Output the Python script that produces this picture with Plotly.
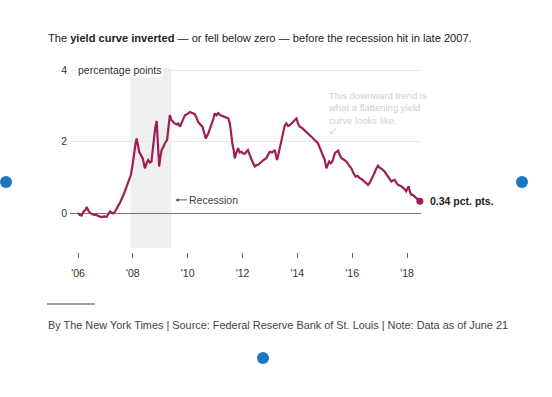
import plotly.graph_objects as go

# ---- data ----
years = [
    2006.00, 2006.06, 2006.13, 2006.20, 2006.27, 2006.32, 2006.38, 2006.44, 2006.52, 2006.62,
    2006.70, 2006.78, 2006.86, 2006.95, 2007.05, 2007.12, 2007.17, 2007.23, 2007.29, 2007.35,
    2007.41, 2007.47, 2007.53, 2007.59, 2007.65, 2007.71, 2007.77, 2007.83, 2007.88, 2007.93,
    2007.99, 2008.05, 2008.10, 2008.14, 2008.19, 2008.23, 2008.30, 2008.36, 2008.40, 2008.44,
    2008.50, 2008.56, 2008.62, 2008.68, 2008.73, 2008.77, 2008.82, 2008.87, 2008.92, 2008.96,
    2009.00, 2009.05, 2009.11, 2009.17, 2009.25, 2009.30, 2009.35, 2009.41, 2009.47, 2009.53,
    2009.60, 2009.65, 2009.72, 2009.80, 2009.90, 2010.00, 2010.08, 2010.17, 2010.26, 2010.32,
    2010.38, 2010.46, 2010.54, 2010.60, 2010.66, 2010.75, 2010.81, 2010.87, 2010.93, 2010.99,
    2011.05, 2011.11, 2011.20, 2011.29, 2011.38, 2011.48, 2011.54, 2011.60, 2011.64, 2011.68,
    2011.72, 2011.78, 2011.84, 2011.90, 2011.96, 2012.02, 2012.08, 2012.14, 2012.20, 2012.27,
    2012.33, 2012.39, 2012.45, 2012.51, 2012.57, 2012.63, 2012.69, 2012.78, 2012.87, 2012.93,
    2012.99, 2013.08, 2013.18, 2013.22, 2013.26, 2013.31, 2013.36, 2013.42, 2013.48, 2013.54,
    2013.60, 2013.66, 2013.72, 2013.78, 2013.84, 2013.90, 2013.97, 2014.03, 2014.09, 2014.18,
    2014.27, 2014.36, 2014.45, 2014.54, 2014.63, 2014.69, 2014.75, 2014.81, 2014.88, 2014.94,
    2015.00, 2015.06, 2015.11, 2015.16, 2015.22, 2015.28, 2015.33, 2015.37, 2015.43, 2015.49,
    2015.55, 2015.61, 2015.70, 2015.79, 2015.88, 2015.97, 2016.05, 2016.13, 2016.20, 2016.27,
    2016.36, 2016.46, 2016.52, 2016.58, 2016.64, 2016.70, 2016.76, 2016.81, 2016.86, 2016.94,
    2016.98, 2017.06, 2017.12, 2017.18, 2017.24, 2017.30, 2017.36, 2017.43, 2017.49, 2017.55,
    2017.61, 2017.67, 2017.73, 2017.79, 2017.88, 2017.97, 2018.02, 2018.06, 2018.10, 2018.15,
    2018.21, 2018.27, 2018.35, 2018.43, 2018.47,
]
spread = [
    0.02, -0.04, -0.06, 0.05, 0.10, 0.18, 0.08, 0.02, -0.02, -0.03,
    -0.05, -0.08, -0.10, -0.08, -0.09, 0.00, 0.06, 0.02, 0.00, 0.05,
    0.16, 0.22, 0.30, 0.39, 0.50, 0.62, 0.75, 0.89, 0.98, 1.08,
    1.36, 1.77, 1.95, 2.09, 1.90, 1.72, 1.62, 1.54, 1.40, 1.26,
    1.40, 1.49, 1.42, 1.45, 1.80, 2.14, 2.40, 2.58, 1.90, 1.31,
    1.55, 1.77, 1.85, 1.96, 2.05, 2.40, 2.74, 2.60, 2.55, 2.51,
    2.48, 2.51, 2.42, 2.55, 2.74, 2.78, 2.83, 2.80, 2.77, 2.68,
    2.55, 2.48, 2.42, 2.25, 2.09, 2.23, 2.35, 2.46, 2.62, 2.79,
    2.74, 2.80, 2.74, 2.71, 2.68, 2.65, 2.51, 2.05, 1.90, 1.77,
    1.54, 1.70, 1.82, 1.70, 1.72, 1.68, 1.66, 1.72, 1.77, 1.62,
    1.49, 1.40, 1.31, 1.35, 1.36, 1.40, 1.45, 1.50, 1.54, 1.62,
    1.72, 1.70, 1.77, 1.62, 1.49, 1.65, 1.82, 2.10, 2.32, 2.45,
    2.51, 2.44, 2.46, 2.52, 2.55, 2.60, 2.65, 2.50, 2.42, 2.38,
    2.32, 2.25, 2.19, 2.12, 2.05, 2.00, 1.96, 1.85, 1.72, 1.60,
    1.49, 1.26, 1.38, 1.45, 1.40, 1.45, 1.58, 1.68, 1.72, 1.75,
    1.62, 1.54, 1.50, 1.45, 1.35, 1.26, 1.12, 1.03, 1.05, 0.99,
    0.95, 0.89, 0.85, 0.80, 0.86, 0.94, 1.02, 1.12, 1.22, 1.33,
    1.29, 1.26, 1.22, 1.17, 1.10, 1.03, 0.96, 0.89, 0.92, 0.94,
    0.86, 0.80, 0.78, 0.76, 0.70, 0.62, 0.70, 0.76, 0.62, 0.53,
    0.52, 0.48, 0.44, 0.37, 0.34,
]
recession_start = 2007.92
recession_end = 2009.40
tick_years = [2006, 2008, 2010, 2012, 2014, 2016, 2018]
tick_labels = ["'06", "'08", "'10", "'12", "'14", "'16", "'18"]
y_ticks = [0, 2, 4]
y_tick_labels = ["0", "2", "4"]
last_label = "0.34 pct. pts."

# ---- layout geometry (screen pixels; body margin removed in post_script) ----
W, H = 552, 397
PL, PR, PT, PB = 70, 421, 68, 252   # plot area box
Y_BOTTOM = 248                       # y-axis domain bottom
FONT = "Liberation Sans, Arial, sans-serif"
LINE_COLOR = "#9e1d55"


def px(x):
    return (x - PL) / (PR - PL)


def py(y):
    return (PB - y) / (PB - PT)


fig = go.Figure()
fig.add_trace(go.Scatter(
    x=years, y=spread, mode="lines",
    line=dict(color=LINE_COLOR, width=2.2),
    hoverinfo="skip", showlegend=False,
))
fig.add_trace(go.Scatter(
    x=[years[-1]], y=[spread[-1]], mode="markers",
    marker=dict(color=LINE_COLOR, size=7),
    cliponaxis=False, hoverinfo="skip", showlegend=False,
))

# recession shading
fig.add_shape(type="rect", xref="x", yref="y domain",
              x0=recession_start, x1=recession_end, y0=0, y1=1,
              fillcolor="#efefef", line_width=0, layer="below")

annotations = [
    dict(xref="paper", yref="y", x=px(76), y=4, text="percentage points",
         showarrow=False, xanchor="left", yanchor="middle",
         font=dict(family=FONT, size=10.5, color="#333"),
         bgcolor="white", borderpad=1),
    dict(xref="x", yref="y", x=recession_end, y=0.38, ax=38, ay=0, xshift=4,
         text="Recession", showarrow=True, arrowhead=2, arrowsize=0.7,
         arrowwidth=1, arrowcolor="#555", xanchor="center",
         font=dict(family=FONT, size=10.5, color="#444")),
    dict(xref="paper", yref="paper", x=px(326), y=py(88),
         text="This downward trend is<br>what a flattening yield<br>curve looks like.",
         showarrow=False, xanchor="left", yanchor="top", align="left",
         font=dict(family=FONT, size=9.5, color="#cfcfcf")),
    dict(xref="paper", yref="paper", x=px(327), y=py(130),
         text="↙", showarrow=False, xanchor="left", yanchor="middle",
         font=dict(family="DejaVu Sans", size=10, color="#cfcfcf")),
    dict(xref="x", yref="y", x=years[-1], y=spread[-1], xshift=8,
         text="<b>" + last_label + "</b>", showarrow=False,
         xanchor="left", yanchor="middle",
         font=dict(family=FONT, size=10.5, color="#222")),
    dict(xref="paper", yref="paper", x=px(46), y=py(38),
         text="The <b>yield curve inverted</b> — or fell below zero — before the recession hit in late 2007.",
         showarrow=False, xanchor="left", yanchor="middle",
         font=dict(family=FONT, size=11.1, color="#222")),
    dict(xref="paper", yref="paper", x=px(46), y=py(325),
         text="By The New York Times | Source: Federal Reserve Bank of St. Louis | Note: Data as of June 21",
         showarrow=False, xanchor="left", yanchor="middle",
         font=dict(family=FONT, size=10.9, color="#444")),
]

shapes_extra = [
    dict(type="line", xref="paper", yref="paper",
         x0=px(47), x1=px(95), y0=py(304), y1=py(304),
         line=dict(color="#444", width=1)),
]
for cx, cy in [(6, 182), (522, 182), (263, 358)]:
    shapes_extra.append(dict(type="circle", xref="paper", yref="paper",
                             x0=px(cx - 6), x1=px(cx + 6), y0=py(cy - 6), y1=py(cy + 6),
                             fillcolor="#1a78c2", line_width=0))
for s in shapes_extra:
    fig.add_shape(**s)

x_left = 2006 - (78 - PL) / 27.42
x_right = 2018 + (PR - 407) / 27.42
y_top = 4 + (70 - PT) / 35.9
y_bot = -(Y_BOTTOM - 213.5) / 35.9

fig.update_layout(
    width=W, height=H,
    margin=dict(l=PL, r=W - PR, t=PT, b=H - PB, pad=0),
    paper_bgcolor="white", plot_bgcolor="white",
    font=dict(family=FONT, size=10.5, color="#333"),
    annotations=annotations,
    hovermode=False,
    xaxis=dict(range=[x_left, x_right], tickvals=tick_years, ticktext=tick_labels,
               showgrid=False, zeroline=False, showline=False,
               ticks="outside", ticklen=5, tickwidth=1, tickcolor="#666",
               anchor="free", position=0, ticklabelstandoff=6,
               tickfont=dict(family=FONT, size=10.5, color="#333")),
    yaxis=dict(range=[y_bot, y_top], domain=[py(Y_BOTTOM), 1],
               tickvals=y_ticks, ticktext=y_tick_labels,
               showgrid=True, gridcolor="#e8e8e8", gridwidth=1,
               zeroline=True, zerolinecolor="#777", zerolinewidth=1.5,
               showline=False, ticks="", ticklabelstandoff=2,
               tickfont=dict(family=FONT, size=10.5, color="#333")),
)

fig.write_html("out.html", config={"displayModeBar": False, "staticPlot": True},
               post_script="document.body.style.margin='0';document.body.style.overflow='hidden';")
